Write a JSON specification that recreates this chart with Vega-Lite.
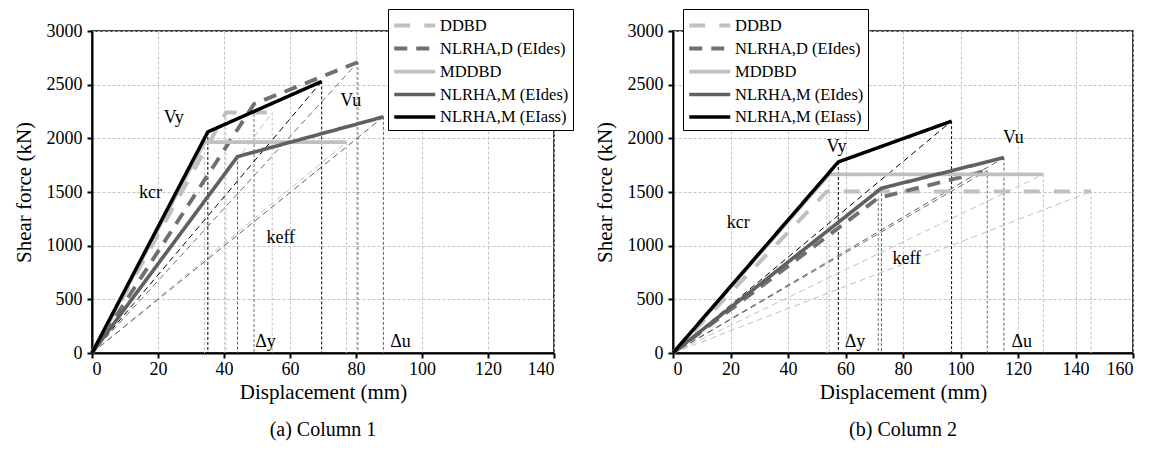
{
  "$schema": "https://vega.github.io/schema/vega-lite/v6.json",
  "background": "white",
  "padding": {"left": 12, "top": 7, "right": 5, "bottom": 5},
  "config": {
    "font": "Liberation Serif",
    "view": {"stroke": "#000", "strokeWidth": 1.5},
    "axis": {
      "labelFont": "Liberation Serif", "labelFontSize": 18, "labelColor": "#000",
      "titleFont": "Liberation Serif", "titleFontSize": 21, "titleFontWeight": "normal", "titleColor": "#000",
      "domainColor": "#000", "domainWidth": 2, "tickColor": "#000", "tickWidth": 2, "tickSize": 5,
      "gridColor": "#c4c4c4", "gridDash": [3, 2], "gridWidth": 1, "labelPadding": 2, "titlePadding": 3, "format": "d"
    },
    "legend": {
      "labelFont": "Liberation Serif", "labelFontSize": 16.5, "labelColor": "#000",
      "strokeColor": "#000", "fillColor": "#fff", "padding": 4, "rowPadding": 2,
      "symbolType": "M-1,0H3", "symbolSize": 420, "labelOffset": 23, "labelLimit": 300
    },
    "title": {"font": "Liberation Serif", "fontSize": 20, "fontWeight": "normal", "color": "#000"}
  },
  "datasets": {
    "curves": [
      {"p": "a", "s": "DDBD", "i": 0, "d": 0, "v": 0},
      {"p": "a", "s": "DDBD", "i": 1, "d": 40.6, "v": 2240},
      {"p": "a", "s": "DDBD", "i": 2, "d": 54.6, "v": 2240},
      {"p": "a", "s": "NLRHA,D (EIdes)", "i": 0, "d": 0, "v": 0},
      {"p": "a", "s": "NLRHA,D (EIdes)", "i": 1, "d": 49.1, "v": 2320},
      {"p": "a", "s": "NLRHA,D (EIdes)", "i": 2, "d": 80.6, "v": 2710},
      {"p": "a", "s": "MDDBD", "i": 0, "d": 0, "v": 0},
      {"p": "a", "s": "MDDBD", "i": 1, "d": 34.1, "v": 1965},
      {"p": "a", "s": "MDDBD", "i": 2, "d": 77.1, "v": 1965},
      {"p": "a", "s": "NLRHA,M (EIdes)", "i": 0, "d": 0, "v": 0},
      {"p": "a", "s": "NLRHA,M (EIdes)", "i": 1, "d": 44.1, "v": 1830},
      {"p": "a", "s": "NLRHA,M (EIdes)", "i": 2, "d": 88.3, "v": 2200},
      {"p": "a", "s": "NLRHA,M (EIass)", "i": 0, "d": 0, "v": 0},
      {"p": "a", "s": "NLRHA,M (EIass)", "i": 1, "d": 35.1, "v": 2060},
      {"p": "a", "s": "NLRHA,M (EIass)", "i": 2, "d": 69.6, "v": 2530},
      {"p": "b", "s": "DDBD", "i": 0, "d": 0, "v": 0},
      {"p": "b", "s": "DDBD", "i": 1, "d": 53.5, "v": 1505},
      {"p": "b", "s": "DDBD", "i": 2, "d": 145.4, "v": 1505},
      {"p": "b", "s": "NLRHA,D (EIdes)", "i": 0, "d": 0, "v": 0},
      {"p": "b", "s": "NLRHA,D (EIdes)", "i": 1, "d": 71.4, "v": 1445},
      {"p": "b", "s": "NLRHA,D (EIdes)", "i": 2, "d": 109.3, "v": 1700},
      {"p": "b", "s": "MDDBD", "i": 0, "d": 0, "v": 0},
      {"p": "b", "s": "MDDBD", "i": 1, "d": 54.3, "v": 1665},
      {"p": "b", "s": "MDDBD", "i": 2, "d": 128.8, "v": 1665},
      {"p": "b", "s": "NLRHA,M (EIdes)", "i": 0, "d": 0, "v": 0},
      {"p": "b", "s": "NLRHA,M (EIdes)", "i": 1, "d": 72.5, "v": 1535},
      {"p": "b", "s": "NLRHA,M (EIdes)", "i": 2, "d": 115.1, "v": 1820},
      {"p": "b", "s": "NLRHA,M (EIass)", "i": 0, "d": 0, "v": 0},
      {"p": "b", "s": "NLRHA,M (EIass)", "i": 1, "d": 57.5, "v": 1780},
      {"p": "b", "s": "NLRHA,M (EIass)", "i": 2, "d": 96.9, "v": 2160}
    ],
    "labels": [
      {"p": "a", "t": "Vy", "d": 24.8, "v": 2190},
      {"p": "a", "t": "kcr", "d": 17.7, "v": 1490},
      {"p": "a", "t": "Vu", "d": 78.4, "v": 2350},
      {"p": "a", "t": "keff", "d": 57.2, "v": 1075},
      {"p": "a", "t": "Δy", "d": 52.6, "v": 100},
      {"p": "a", "t": "Δu", "d": 93.5, "v": 100},
      {"p": "b", "t": "Vy", "d": 56.9, "v": 1915},
      {"p": "b", "t": "kcr", "d": 22.7, "v": 1215},
      {"p": "b", "t": "Vu", "d": 118.4, "v": 2005},
      {"p": "b", "t": "keff", "d": 81.3, "v": 875},
      {"p": "b", "t": "Δy", "d": 63.3, "v": 100},
      {"p": "b", "t": "Δu", "d": 121.3, "v": 100}
    ]
  },
  "spacing": 18,
  "resolve": {
    "scale": {"x": "independent", "y": "independent", "color": "independent", "strokeDash": "independent", "strokeWidth": "independent"},
    "legend": {"color": "independent", "strokeDash": "independent", "strokeWidth": "independent"}
  },
  "hconcat": [
    {
      "width": 462, "height": 322,
      "title": {"text": "(a) Column 1", "orient": "bottom", "offset": 18},
      "layer": [
        {
          "data": {"name": "curves"},
          "transform": [{"filter": "datum.p == 'a' && datum.i > 0"}],
          "mark": {"type": "rule", "strokeDash": [3, 2], "strokeWidth": 1},
          "encoding": {
            "x": {"field": "d", "type": "quantitative", "scale": {"domain": [0, 140], "nice": false},
                  "axis": {"values": [0, 20, 40, 60, 80, 100, 120, 140], "title": "Displacement (mm)", "grid": true}},
            "y": {"field": "v", "type": "quantitative", "scale": {"domain": [0, 3000], "nice": false},
                  "axis": {"values": [0, 500, 1000, 1500, 2000, 2500, 3000], "title": "Shear force (kN)", "grid": true, "labelPadding": 5, "titlePadding": 12}},
            "y2": {"datum": 0},
            "color": {"field": "s", "type": "nominal"}
          }
        },
        {
          "data": {"name": "curves"},
          "transform": [{"filter": "datum.p == 'a' && datum.i != 1"}],
          "mark": {"type": "line", "strokeDash": [6, 4], "strokeWidth": 1},
          "encoding": {
            "x": {"field": "d", "type": "quantitative"},
            "y": {"field": "v", "type": "quantitative"},
            "color": {"field": "s", "type": "nominal"},
            "detail": {"field": "s", "type": "nominal"}
          }
        },
        {
          "data": {"name": "curves"},
          "transform": [{"filter": "datum.p == 'a'"}],
          "mark": {"type": "line", "strokeCap": "butt"},
          "encoding": {
            "x": {"field": "d", "type": "quantitative"},
            "y": {"field": "v", "type": "quantitative"},
            "order": {"field": "i", "type": "quantitative"},
            "color": {"field": "s", "type": "nominal",
              "scale": {"domain": ["DDBD", "NLRHA,D (EIdes)", "MDDBD", "NLRHA,M (EIdes)", "NLRHA,M (EIass)"], "range": ["#c0c0c0", "#707070", "#c0c0c0", "#606060", "#000000"]},
              "legend": {"orient": "none", "legendX": 296, "legendY": -22, "title": null}},
            "strokeDash": {"field": "s", "type": "nominal",
              "scale": {"domain": ["DDBD", "NLRHA,D (EIdes)", "MDDBD", "NLRHA,M (EIdes)", "NLRHA,M (EIass)"], "range": [[16, 14], [13, 9], [1, 0], [1, 0], [1, 0]]},
              "legend": {"orient": "none", "legendX": 296, "legendY": -22, "title": null}},
            "strokeWidth": {"field": "s", "type": "nominal",
              "scale": {"domain": ["DDBD", "NLRHA,D (EIdes)", "MDDBD", "NLRHA,M (EIdes)", "NLRHA,M (EIass)"], "range": [4, 3.5, 4, 3, 4]},
              "legend": {"orient": "none", "legendX": 296, "legendY": -22, "title": null}}
          }
        },
        {
          "data": {"name": "labels"},
          "transform": [{"filter": "datum.p == 'a'"}],
          "mark": {"type": "text", "font": "Liberation Serif", "fontSize": 18, "color": "#000"},
          "encoding": {
            "x": {"field": "d", "type": "quantitative"},
            "y": {"field": "v", "type": "quantitative"},
            "text": {"field": "t", "type": "nominal"}
          }
        }
      ]
    },
    {
      "width": 460, "height": 322,
      "title": {"text": "(b) Column 2", "orient": "bottom", "offset": 18},
      "layer": [
        {
          "data": {"name": "curves"},
          "transform": [{"filter": "datum.p == 'b' && datum.i > 0"}],
          "mark": {"type": "rule", "strokeDash": [3, 2], "strokeWidth": 1},
          "encoding": {
            "x": {"field": "d", "type": "quantitative", "scale": {"domain": [0, 160], "nice": false},
                  "axis": {"values": [0, 20, 40, 60, 80, 100, 120, 140, 160], "title": "Displacement (mm)", "grid": true}},
            "y": {"field": "v", "type": "quantitative", "scale": {"domain": [0, 3000], "nice": false},
                  "axis": {"values": [0, 500, 1000, 1500, 2000, 2500, 3000], "title": "Shear force (kN)", "grid": true, "labelPadding": 5, "titlePadding": 12}},
            "y2": {"datum": 0},
            "color": {"field": "s", "type": "nominal"}
          }
        },
        {
          "data": {"name": "curves"},
          "transform": [{"filter": "datum.p == 'b' && datum.i != 1"}],
          "mark": {"type": "line", "strokeDash": [6, 4], "strokeWidth": 1},
          "encoding": {
            "x": {"field": "d", "type": "quantitative"},
            "y": {"field": "v", "type": "quantitative"},
            "color": {"field": "s", "type": "nominal"},
            "detail": {"field": "s", "type": "nominal"}
          }
        },
        {
          "data": {"name": "curves"},
          "transform": [{"filter": "datum.p == 'b'"}],
          "mark": {"type": "line", "strokeCap": "butt"},
          "encoding": {
            "x": {"field": "d", "type": "quantitative"},
            "y": {"field": "v", "type": "quantitative"},
            "order": {"field": "i", "type": "quantitative"},
            "color": {"field": "s", "type": "nominal",
              "scale": {"domain": ["DDBD", "NLRHA,D (EIdes)", "MDDBD", "NLRHA,M (EIdes)", "NLRHA,M (EIass)"], "range": ["#c0c0c0", "#707070", "#c0c0c0", "#606060", "#000000"]},
              "legend": {"orient": "none", "legendX": 10, "legendY": -22, "title": null}},
            "strokeDash": {"field": "s", "type": "nominal",
              "scale": {"domain": ["DDBD", "NLRHA,D (EIdes)", "MDDBD", "NLRHA,M (EIdes)", "NLRHA,M (EIass)"], "range": [[16, 14], [13, 9], [1, 0], [1, 0], [1, 0]]},
              "legend": {"orient": "none", "legendX": 10, "legendY": -22, "title": null}},
            "strokeWidth": {"field": "s", "type": "nominal",
              "scale": {"domain": ["DDBD", "NLRHA,D (EIdes)", "MDDBD", "NLRHA,M (EIdes)", "NLRHA,M (EIass)"], "range": [4, 3.5, 4, 3, 4]},
              "legend": {"orient": "none", "legendX": 10, "legendY": -22, "title": null}}
          }
        },
        {
          "data": {"name": "labels"},
          "transform": [{"filter": "datum.p == 'b'"}],
          "mark": {"type": "text", "font": "Liberation Serif", "fontSize": 18, "color": "#000"},
          "encoding": {
            "x": {"field": "d", "type": "quantitative"},
            "y": {"field": "v", "type": "quantitative"},
            "text": {"field": "t", "type": "nominal"}
          }
        }
      ]
    }
  ]
}
